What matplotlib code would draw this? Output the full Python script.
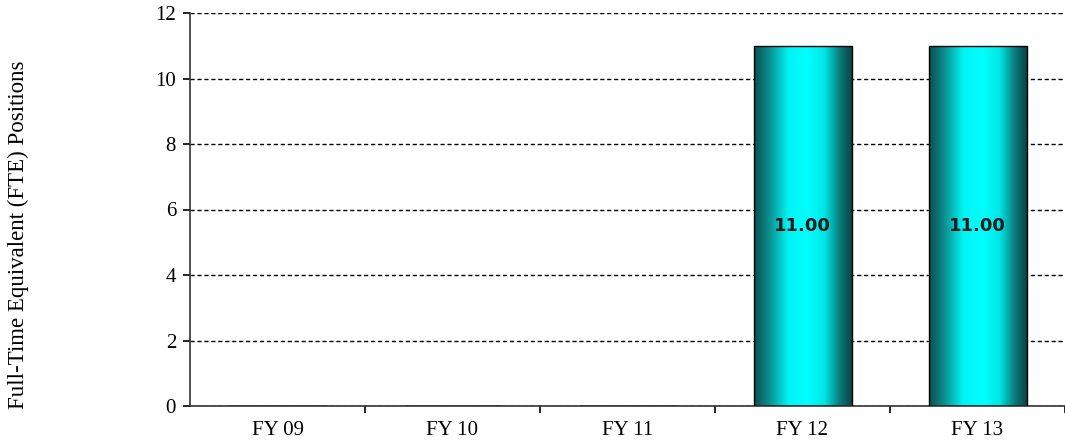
import numpy as np
import matplotlib
matplotlib.use("Agg")
import matplotlib.pyplot as plt
from matplotlib.colors import LinearSegmentedColormap

categories = ["FY 09", "FY 10", "FY 11", "FY 12", "FY 13"]
fte_values = [0, 0, 0, 11.00, 11.00]
y_ticks = [0, 2, 4, 6, 8, 10, 12]

serif = ["Liberation Serif", "DejaVu Serif"]

fig = plt.figure(figsize=(10.65, 4.43), dpi=100)
ax = fig.add_axes([190 / 1065, 37 / 443, 875 / 1065, 393 / 443])

x = np.arange(len(categories))
bar_width = 0.56
bars = ax.bar(x, fte_values, width=bar_width, color="none",
              edgecolor="black", linewidth=1.0, zorder=3)

# horizontal cylinder-style shading for each bar
shade = LinearSegmentedColormap.from_list(
    "cyl", [(0.0, "#0b4f50"), (0.15, "#0d8c8c"), (0.35, "#00f4f4"),
            (0.55, "#00ffff"), (0.72, "#00e6e6"), (0.88, "#0a7a7a"),
            (1.0, "#0c4444")])
grad = np.linspace(0, 1, 256).reshape(1, -1)
for rect, val in zip(bars, fte_values):
    if val <= 0:
        continue
    x0, w = rect.get_x(), rect.get_width()
    im = ax.imshow(grad, cmap=shade, aspect="auto",
                   extent=(x0, x0 + w, 0, val), zorder=2)
    im.set_clip_path(rect)
    ax.text(x0 + w / 2, val / 2, f"{val:.2f}", ha="center", va="center",
            fontsize=13, fontweight="bold", color="#1a1a1a",
            family="DejaVu Sans", zorder=4)

ax.set_xlim(-0.5, len(categories) - 0.5)
ax.set_ylim(0, 12)
ax.set_yticks(y_ticks)
ax.set_yticklabels([str(v) for v in y_ticks], family=serif, fontsize=15)

ax.set_xticks(x)
ax.set_xticklabels(categories, family=serif, fontsize=15)
ax.tick_params(axis="x", length=0, pad=11)
ax.set_xticks(np.arange(len(categories)) + 0.5, minor=True)
ax.tick_params(axis="x", which="minor", length=5, width=1.2, color="black",
               direction="out")
ax.tick_params(axis="y", length=5, width=1.2, direction="out", pad=5)

ax.yaxis.grid(True, linestyle=(0, (3, 2)), color="black", linewidth=1.0,
              zorder=1)
ax.set_axisbelow(True)

for side in ("top", "right"):
    ax.spines[side].set_visible(False)
ax.spines["left"].set_color("#333333")
ax.spines["bottom"].set_color("#333333")
ax.spines["left"].set_linewidth(1.2)
ax.spines["bottom"].set_linewidth(1.2)

fig.text(18 / 1065, 1 - 235 / 443, "Full-Time Equivalent (FTE) Positions",
         rotation=90, ha="center", va="center", family=serif, fontsize=16.5)

fig.savefig("out.png", dpi=100)
